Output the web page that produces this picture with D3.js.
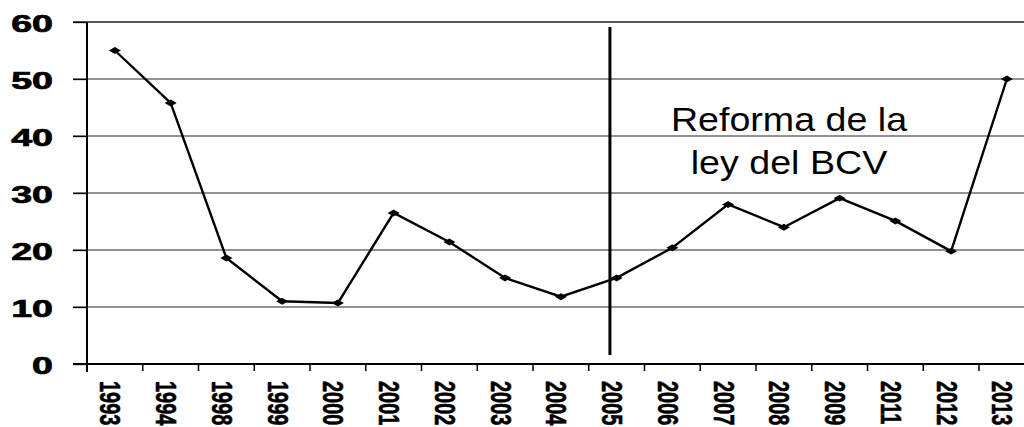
<!DOCTYPE html>
<html>
<head>
<meta charset="utf-8">
<script src="https://cdn.jsdelivr.net/npm/d3@7"></script>
<style>
  html, body { margin: 0; padding: 0; background: #fff; }
  svg { display: block; }
</style>
</head>
<body>
<svg id="chart" width="1024" height="427"></svg>
<script>
// Years shown on the category axis
const years = ["1993","1994","1998","1999","2000","2001","2002","2003","2004","2005","2006","2007","2008","2009","2011","2012","2013"];
// Series values per year
const values = [55, 45.8, 18.6, 11, 10.7, 26.5, 21.4, 15.1, 11.8, 15.1, 20.4, 28, 24, 29.1, 25.1, 19.8, 50];
// Value axis ticks
const yTicks = [0, 10, 20, 30, 40, 50, 60];
// Annotation
const reformYear = "2005";
const noteLines = ["Reforma de la", "ley del BCV"];

(function () {
const svg = d3.select("#chart");
const mLeft = 87, mTop = 22, mBottom = 364, bandW = 55.75;
const mRight = mLeft + bandW * years.length;
const font = "Liberation Sans, Arial, sans-serif";

const x = d3.scaleBand().domain(years).range([mLeft, mRight]).paddingInner(0).paddingOuter(0);
const y = d3.scaleLinear().domain([0, 60]).range([mBottom, mTop]);

// Horizontal gridlines
svg.append("g").selectAll("line").data(yTicks.filter(d => d > 0)).join("line")
  .attr("x1", 73).attr("x2", 1024)
  .attr("y1", d => y(d)).attr("y2", d => y(d))
  .attr("stroke", d => d === 60 ? "#222" : "#6e6e6e")
  .attr("stroke-width", 1.3);

// Value axis (labels drawn separately so they can be widened)
const yAxis = svg.append("g").attr("transform", `translate(${mLeft},0)`)
  .call(d3.axisLeft(y).tickValues(yTicks).tickSize(14).tickFormat(""));
yAxis.select(".domain").attr("stroke", "#000").attr("stroke-width", 2).attr("d", `M0,${mTop}V${mBottom + 8}`);
yAxis.selectAll(".tick line").attr("stroke", "#000").attr("stroke-width", 1.3);

svg.append("g").selectAll("text").data(yTicks).join("text")
  .attr("transform", d => `translate(53,${y(d) + 2.5}) scale(1.6,1)`)
  .attr("text-anchor", "end")
  .attr("dominant-baseline", "central")
  .attr("font-family", font).attr("font-weight", "bold")
  .attr("font-size", 23.5).attr("fill", "#000")
  .attr("stroke", "#000").attr("stroke-width", 0.7)
  .text(d => d);

// Category axis: ticks at band boundaries
const xAxis = svg.append("g").attr("transform", `translate(0,${mBottom})`);
xAxis.append("line").attr("x1", 73).attr("x2", 1024).attr("y1", 0).attr("y2", 0)
  .attr("stroke", "#000").attr("stroke-width", 2);
xAxis.selectAll("line.tk").data(years).join("line").attr("class", "tk")
  .attr("x1", d => x(d)).attr("x2", d => x(d)).attr("y1", 0).attr("y2", 7)
  .attr("stroke", "#000").attr("stroke-width", 1.5);
xAxis.selectAll("text").data(years).join("text")
  .attr("transform", d => `translate(${x(d) + x.bandwidth() / 2 - 4},17) rotate(90) scale(1,1.45)`)
  .attr("dominant-baseline", "central")
  .attr("font-family", font)
  .attr("font-weight", "bold").attr("font-size", 20).attr("fill", "#000")
  .attr("stroke", "#000").attr("stroke-width", 0.4)
  .text(d => d);

// Vertical marker for the reform
const vx = x(reformYear) + x.bandwidth() * 0.38;
svg.append("line").attr("x1", vx).attr("x2", vx).attr("y1", 27).attr("y2", 355)
  .attr("stroke", "#000").attr("stroke-width", 3);

// Series line
const cx = d => x(d) + x.bandwidth() / 2;
svg.append("path").datum(values)
  .attr("fill", "none").attr("stroke", "#000").attr("stroke-width", 2.4)
  .attr("d", d3.line().x((d, i) => cx(years[i])).y(d => y(d)));

// Diamond markers (wide diamonds)
svg.append("g").selectAll("path").data(values).join("path")
  .attr("transform", (d, i) => `translate(${cx(years[i])},${y(d)}) rotate(90)`)
  .attr("d", d3.symbol().type(d3.symbolDiamond).size(42))
  .attr("fill", "#000");

// Annotation text
svg.append("g").selectAll("text").data(noteLines).join("text")
  .attr("transform", (d, i) => `translate(789,${131 + i * 43}) scale(1.14,1)`)
  .attr("text-anchor", "middle")
  .attr("font-family", font)
  .attr("font-size", 33).attr("fill", "#000")
  .text(d => d);
})();
</script>
</body>
</html>
